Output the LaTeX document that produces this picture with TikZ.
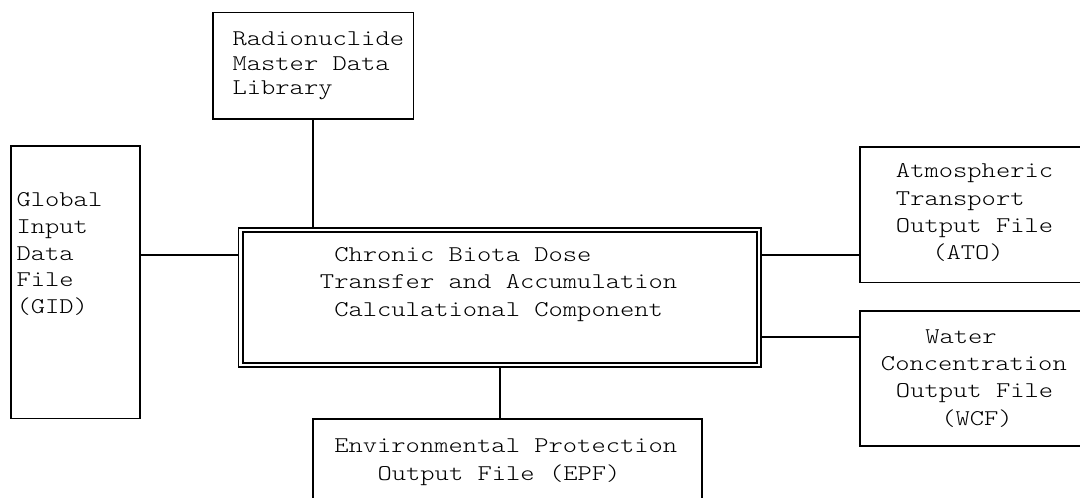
\documentclass[tikz,border=0pt]{standalone}
\usepackage{fontspec}
\newfontfamily\cour[FakeStretch=1.21]{lmmonolt10-regular.otf}
\begin{document}
\begin{tikzpicture}[x=0.75pt,y=-0.75pt,
  filebox/.style={draw=black, line width=1.3pt, inner sep=0pt, anchor=north west, fill=none},
  corebox/.style={filebox, double=white, double distance=1.9pt},
  conn/.style={draw=black, line width=1.3pt},
  txt/.style={font=\cour\fontsize{16.875}{20}\selectfont, inner sep=0pt, anchor=base west, text=black}]
\useasboundingbox (0,0) rectangle (1080,497);
\clip (0,0) rectangle (1080,497);

% boxes
\node[filebox, minimum width={200.7*0.75pt}, minimum height={106.3*0.75pt}] (rad) at (212,11.7) {};
\node[filebox, minimum width={129*0.75pt}, minimum height={272.7*0.75pt}] (gid) at (10,145) {};
\node[corebox, minimum width={518.35*0.75pt}, minimum height={135.2*0.75pt}] (core) at (239.65,229.15) {};
\node[filebox, minimum width={300*0.75pt}, minimum height={135.7*0.75pt}] (ato) at (859,146) {};
\node[filebox, minimum width={300*0.75pt}, minimum height={135*0.75pt}] (wcf) at (859,310) {};
\node[filebox, minimum width={388.7*0.75pt}, minimum height={200*0.75pt}] (epf) at (312.3,418.3) {};

% connector rows
\coordinate (r1) at (0,255);
\coordinate (r2) at (0,337);

% connectors
\draw[conn, shorten >=1.6pt] (rad.south) -- (rad.south |- core.north);
\draw[conn, shorten >=1.6pt] (gid.east |- r1) -- (core.west |- r1);
\draw[conn, shorten <=1.6pt] (core.east |- r1) -- (ato.west |- r1);
\draw[conn, shorten <=1.6pt] (core.east |- r2) -- (wcf.west |- r2);
\draw[conn, shorten <=1.6pt] (core.south) -- (core.south |- epf.north);

% texts
\node[txt] (rad1) at (232.3,45) {Radionuclide};
\node[txt] (rad2) at (232.3,70) {Master Data};
\node[txt] (rad3) at (232.3,94.5) {Library};

\node[txt] (gid1) at (16.3,206.7) {Global};
\node[txt] (gid2) at (16.3,233.3) {Input};
\node[txt] (gid3) at (16.3,260) {Data};
\node[txt] (gid4) at (16.3,286.7) {File};
\node[txt] (gid5) at (16.3,313.3) {(GID)};

\node[txt] (core1) at (334,261.7) {Chronic Biota Dose};
\node[txt] (core2) at (319.7,288.3) {Transfer and Accumulation};
\node[txt] (core3) at (334,316.7) {Calculational Component};

\node[txt] (ato1) at (895.7,177.3) {Atmospheric};
\node[txt] (ato2) at (895.7,205) {Transport};
\node[txt] (ato3) at (895.7,232.7) {Output File};
\node[txt] (ato4) at (932,259) {(ATO)};

\node[txt] (wcf1) at (925,343.3) {Water};
\node[txt] (wcf2) at (880.7,370.7) {Concentration};
\node[txt] (wcf3) at (895.7,397.7) {Output File};
\node[txt] (wcf4) at (941,425) {(WCF)};

\node[txt] (epf1) at (334,452.7) {Environmental Protection};
\node[txt] (epf2) at (377.3,480) {Output File (EPF)};
\end{tikzpicture}
\end{document}
